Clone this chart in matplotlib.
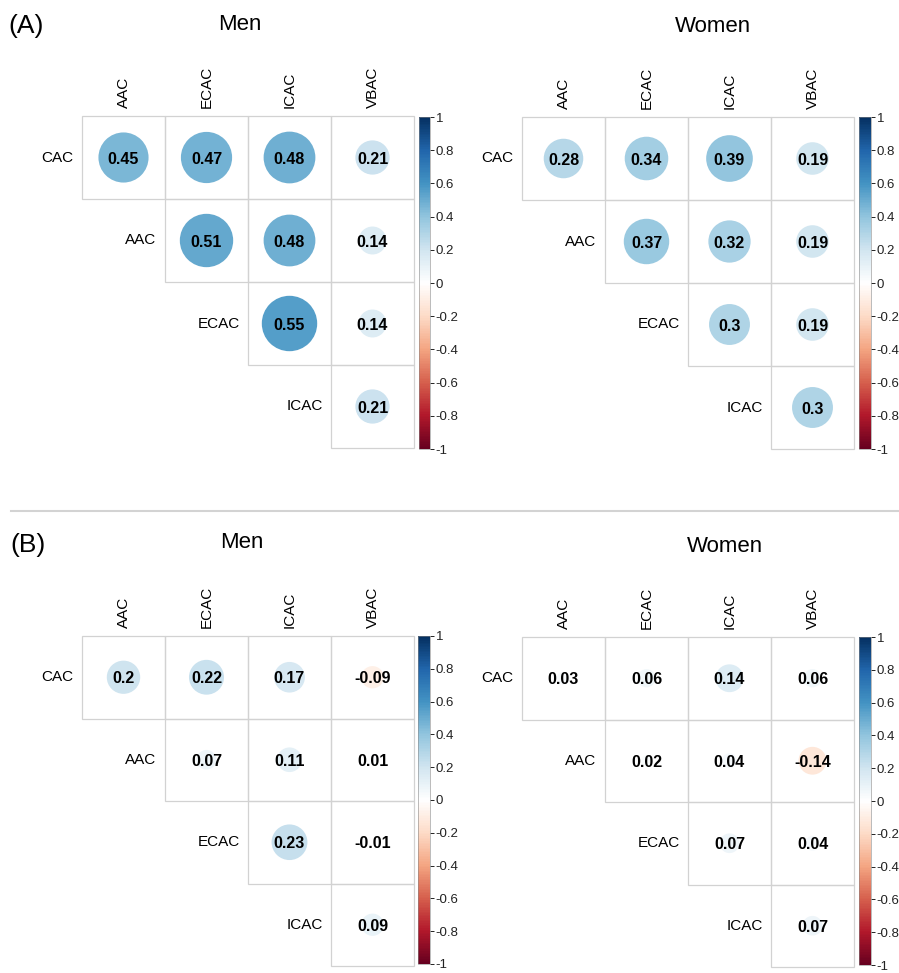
import numpy as np
import matplotlib
matplotlib.use('Agg')
import matplotlib.pyplot as plt
from matplotlib.colors import LinearSegmentedColormap, Normalize
from matplotlib.patches import Circle, Rectangle
from matplotlib.lines import Line2D
import matplotlib.cm as cm

plt.rcParams['font.family'] = ['Liberation Sans', 'DejaVu Sans']

W, H = 899, 973

row_labels = ['CAC', 'AAC', 'ECAC', 'ICAC']
col_labels = ['AAC', 'ECAC', 'ICAC', 'VBAC']

# upper triangle values, one list per row (starting at the diagonal column)
men_a = [[0.45, 0.47, 0.48, 0.21], [0.51, 0.48, 0.14], [0.55, 0.14], [0.21]]
women_a = [[0.28, 0.34, 0.39, 0.19], [0.37, 0.32, 0.19], [0.3, 0.19], [0.3]]
men_b = [[0.2, 0.22, 0.17, -0.09], [0.07, 0.11, 0.01], [0.23, -0.01], [0.09]]
women_b = [[0.03, 0.06, 0.14, 0.06], [0.02, 0.04, -0.14], [0.07, 0.04], [0.07]]

cb_ticks = [-1, -0.8, -0.6, -0.4, -0.2, 0, 0.2, 0.4, 0.6, 0.8, 1]
cb_labels = ['-1', '-0.8', '-0.6', '-0.4', '-0.2', '0', '0.2', '0.4', '0.6', '0.8', '1']

# corrplot style RdBu palette (white centre)
rdbu = ['#67001F', '#B2182B', '#D6604D', '#F4A582', '#FDDBC7', '#FFFFFF',
        '#D1E5F0', '#92C5DE', '#4393C3', '#2166AC', '#053061']
cmap = LinearSegmentedColormap.from_list('corr_rdbu', rdbu, N=200)
norm = Normalize(-1, 1)


def px_axes(fig, x0, y0, x1, y1):
    # place an axes from pixel box (top-left origin)
    return fig.add_axes([x0 / W, 1 - y1 / H, (x1 - x0) / W, (y1 - y0) / H])


def draw_panel(fig, vals, grid_box, cbar_box):
    ax = px_axes(fig, *grid_box)
    ax.set_xlim(0, 4)
    ax.set_ylim(4, 0)
    ax.axis('off')
    for i, row in enumerate(vals):
        for k, r in enumerate(row):
            j = i + k
            ax.add_patch(Rectangle((j, i), 1, 1, fill=False, ec='#d2d2d2',
                                   lw=0.9, clip_on=False))
            rad = 0.45 * np.sqrt(abs(r))
            ax.add_patch(Circle((j + 0.5, i + 0.5), rad, fc=cmap(norm(r)),
                                ec='none', clip_on=False))
            ax.text(j + 0.5, i + 0.52, f'{r:g}', ha='center', va='center',
                    fontsize=11.5, fontweight='bold', color='black')
        ax.text(i - 0.1, i + 0.5, row_labels[i], ha='right', va='center',
                fontsize=11)
    for j, lab in enumerate(col_labels):
        ax.text(j + 0.5, -0.1, lab, rotation=90, ha='center', va='bottom',
                fontsize=11)

    cax = px_axes(fig, *cbar_box)
    cb = fig.colorbar(cm.ScalarMappable(norm=norm, cmap=cmap), cax=cax,
                      ticks=cb_ticks)
    cb.ax.set_yticklabels(cb_labels)
    cb.ax.tick_params(labelsize=9.5, length=3, width=0.7, pad=1,
                      colors='#222222')
    cb.outline.set_linewidth(0.4)
    cb.outline.set_edgecolor('#888888')


fig = plt.figure(figsize=(W / 100, H / 100), dpi=100)

draw_panel(fig, men_a, (82, 116, 414, 448), (419, 117, 430, 449))
draw_panel(fig, women_a, (522, 117, 854, 449), (859, 117, 871, 449))
draw_panel(fig, men_b, (82, 636, 414, 966), (418, 636, 430, 964))
draw_panel(fig, women_b, (522, 637, 854, 967), (859, 637, 871, 965))

fig.text(8 / W, 1 - 26 / H, '(A)', fontsize=19, ha='left', va='center')
fig.text(240 / W, 1 - 25 / H, 'Men', fontsize=16, ha='center', va='center')
fig.text(713 / W, 1 - 27 / H, 'Women', fontsize=16, ha='center', va='center')

fig.add_artist(Line2D([11 / W, 1], [1 - 511 / H, 1 - 511 / H],
                      color='#d3d3d3', lw=1.5))

fig.text(10 / W, 1 - 545 / H, '(B)', fontsize=19, ha='left', va='center')
fig.text(242 / W, 1 - 543 / H, 'Men', fontsize=16, ha='center', va='center')
fig.text(725 / W, 1 - 547 / H, 'Women', fontsize=16, ha='center', va='center')

fig.savefig('out.png', dpi=100)
